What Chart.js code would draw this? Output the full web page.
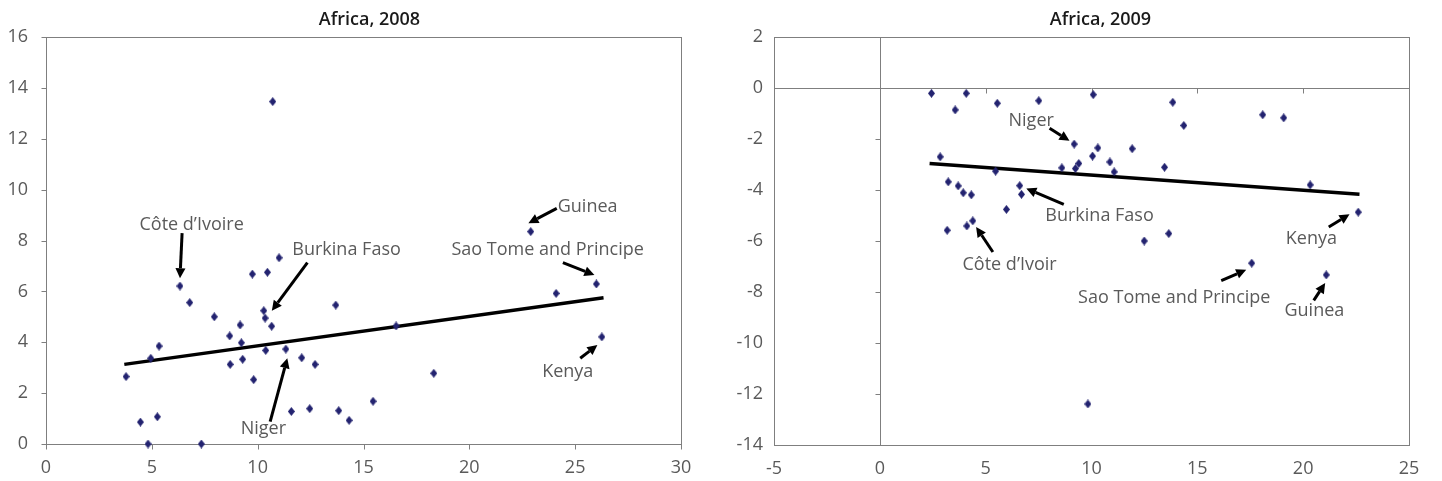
<!DOCTYPE html>
<html>
<head>
<meta charset="utf-8">
<script src="https://cdn.jsdelivr.net/npm/chart.js@4/dist/chart.umd.min.js"></script>
<style>
  body { margin: 0; background: #fff; }
  .panel { position: absolute; top: 0; width: 721px; height: 481px; }
</style>
</head>
<body>
<div class="panel" style="left:0"><canvas id="c2008" width="721" height="481"></canvas></div>
<div class="panel" style="left:721px"><canvas id="c2009" width="721" height="481"></canvas></div>
<script>
// Africa, 2008 scatter
const x2008 = [3.78, 4.46, 4.82, 4.95, 5.26, 5.34, 6.33, 6.79, 7.34, 7.95, 8.68, 8.70, 9.17, 9.23, 9.29, 9.75, 9.81, 10.29, 10.35, 10.38,
  10.46, 10.66, 11.01, 11.33, 11.59, 12.08, 12.46, 12.71, 13.69, 13.83, 14.32, 15.45, 16.54, 18.32, 24.1, 26.0, 26.26, 22.9, 10.71];
const y2008 = [2.65, 0.86, 0, 3.37, 1.07, 3.85, 6.21, 5.56, 0, 5.0, 4.25, 3.13, 4.68, 3.98, 3.33, 6.68, 2.53, 5.24, 4.95, 3.68,
  6.75, 4.63, 7.32, 3.73, 1.28, 3.39, 1.39, 3.13, 5.46, 1.31, 0.93, 1.68, 4.64, 2.78, 5.92, 6.29, 4.21, 8.35, 13.46];
const trendX2008 = [3.7, 26.34];
const trendY2008 = [3.13, 5.75];

// Africa, 2009 scatter
const x2009 = [2.44, 2.85, 3.23, 3.18, 3.56, 3.70, 3.94, 4.08, 4.11, 4.32, 4.39, 5.55, 5.47, 5.98, 6.61, 6.69, 7.51, 8.60, 9.18, 9.24,
  9.40, 10.08, 10.05, 10.30, 10.87, 11.07, 11.92, 12.49, 13.45, 13.65, 13.84, 14.36, 18.09, 19.08, 20.33, 22.6, 17.57, 21.09, 9.83];
const y2009 = [-0.21, -2.70, -3.68, -5.58, -0.86, -3.84, -4.11, -0.21, -5.41, -4.19, -5.21, -0.60, -3.26, -4.76, -3.83, -4.17, -0.50, -3.13, -2.20, -3.16,
  -2.96, -0.26, -2.67, -2.35, -2.90, -3.29, -2.38, -6.0, -3.11, -5.71, -0.56, -1.47, -1.05, -1.17, -3.80, -4.87, -6.87, -7.33, -12.39];
const trendX2009 = [2.35, 22.66];
const trendY2009 = [-2.96, -4.17];

// callouts (data units): label, text centre, arrow tail, arrow head
const notes2008 = ['Côte d\u2019Ivoire', 'Burkina Faso', 'Niger', 'Guinea', 'Sao Tome and Principe', 'Kenya'];
const notes2008TextX = [6.88, 14.2, 10.27, 25.59, 23.70, 24.65];
const notes2008TextY = [8.65, 7.67, 0.63, 9.39, 7.70, 2.87];
const notes2008TailX = [6.43, 12.35, 10.59, 24.13, 24.42, 25.24];
const notes2008TailY = [8.29, 7.13, 0.88, 9.26, 7.13, 3.37];
const notes2008HeadX = [6.33, 10.67, 11.40, 22.79, 25.91, 26.05];
const notes2008HeadY = [6.52, 5.24, 3.37, 8.68, 6.64, 3.89];

const notes2009 = ['Niger', 'Burkina Faso', 'Côte d\u2019Ivoir', 'Kenya', 'Sao Tome and Principe', 'Guinea'];
const notes2009TextX = [7.15, 10.38, 6.13, 20.39, 13.91, 20.53];
const notes2009TextY = [-1.22, -4.95, -6.87, -5.86, -8.18, -8.69];
const notes2009TailX = [8.02, 8.69, 5.34, 21.21, 16.13, 20.5];
const notes2009TailY = [-1.58, -4.56, -6.43, -5.45, -7.55, -8.33];
const notes2009HeadX = [8.96, 6.92, 4.55, 22.19, 17.31, 21.04];
const notes2009HeadY = [-2.07, -3.94, -5.45, -4.95, -7.13, -7.65];

Chart.defaults.font.family = "'Open Sans', 'Noto Sans', sans-serif";
Chart.defaults.font.size = 18;
Chart.defaults.color = '#5a5a5a';

const TEXT = '#5a5a5a';
const LINE = '#7f7f7f';

// diamond marker
const diamond = document.createElement('canvas');
diamond.width = 7; diamond.height = 9;
(function () {
  const g = diamond.getContext('2d');
  g.fillStyle = '#232370';
  g.beginPath();
  g.moveTo(3.5, 0); g.lineTo(7, 4.5); g.lineTo(3.5, 9); g.lineTo(0, 4.5);
  g.closePath(); g.fill();
})();

function arrow(ctx, x1, y1, x2, y2) {
  const a = Math.atan2(y2 - y1, x2 - x1);
  const hl = 10, hw = 5;
  const bx = x2 - hl * Math.cos(a), by = y2 - hl * Math.sin(a);
  ctx.strokeStyle = '#000'; ctx.fillStyle = '#000';
  ctx.lineWidth = 3; ctx.lineCap = 'butt';
  ctx.beginPath(); ctx.moveTo(x1, y1); ctx.lineTo(bx, by); ctx.stroke();
  ctx.beginPath();
  ctx.moveTo(x2, y2);
  ctx.lineTo(bx + hw * Math.sin(a), by - hw * Math.cos(a));
  ctx.lineTo(bx - hw * Math.sin(a), by + hw * Math.cos(a));
  ctx.closePath(); ctx.fill();
}

function makeChart(id, cfg) {
  const pts = cfg.xs.map((x, i) => ({ x: x, y: cfg.ys[i] }));
  const trend = cfg.tx.map((x, i) => ({ x: x, y: cfg.ty[i] }));

  const decor = {
    id: 'decor',
    beforeDatasetsDraw(chart) {
      const { ctx, chartArea: a, scales: { x, y } } = chart;
      ctx.save();
      ctx.strokeStyle = LINE; ctx.lineWidth = 1;
      ctx.strokeRect(Math.round(a.left) + 0.5, Math.round(a.top) + 0.5,
        Math.round(a.right - a.left), Math.round(a.bottom - a.top));
      // axes crossing at zero with their tick marks
      const x0 = Math.round(x.getPixelForValue(cfg.xAxisAt)) + 0.5;
      const y0 = Math.round(y.getPixelForValue(cfg.yAxisAt)) + 0.5;
      ctx.beginPath();
      ctx.moveTo(x0, a.top); ctx.lineTo(x0, a.bottom);
      ctx.moveTo(a.left, y0); ctx.lineTo(a.right, y0);
      y.ticks.forEach(t => {
        const py = Math.round(y.getPixelForValue(t.value)) + 0.5;
        ctx.moveTo(x0 - 5, py); ctx.lineTo(x0, py);
      });
      x.ticks.forEach(t => {
        const px = Math.round(x.getPixelForValue(t.value)) + 0.5;
        ctx.moveTo(px, y0); ctx.lineTo(px, y0 + 5);
      });
      ctx.stroke();
      ctx.restore();
    },
    afterDatasetsDraw(chart) {
      const { ctx, chartArea: a, scales: { x, y } } = chart;
      ctx.save();
      cfg.notes.forEach((label, i) => {
        arrow(ctx, x.getPixelForValue(cfg.tailX[i]), y.getPixelForValue(cfg.tailY[i]),
          x.getPixelForValue(cfg.headX[i]), y.getPixelForValue(cfg.headY[i]));
        ctx.fillStyle = TEXT;
        ctx.font = "18px 'Open Sans', 'Noto Sans', sans-serif";
        ctx.textAlign = 'center'; ctx.textBaseline = 'alphabetic';
        ctx.fillText(label, x.getPixelForValue(cfg.textX[i]), y.getPixelForValue(cfg.textY[i]) + 6.5);
      });
      ctx.fillStyle = '#1a1a1a';
      ctx.font = "600 18px 'Open Sans', 'Noto Sans', sans-serif";
      ctx.textAlign = 'center';
      ctx.fillText(cfg.title, (a.left + a.right) / 2 + cfg.titleShift, 25);
      ctx.restore();
    }
  };

  return new Chart(document.getElementById(id), {
    type: 'scatter',
    data: {
      datasets: [
        { data: pts, pointStyle: diamond, pointRadius: 4, pointHoverRadius: 4, clip: false },
        { type: 'line', data: trend, borderColor: '#000', borderWidth: 3.5, pointRadius: 0, fill: false }
      ]
    },
    options: {
      responsive: false,
      animation: false,
      events: [],
      layout: { padding: { top: 37, right: cfg.padRight, left: 0, bottom: 0 } },
      plugins: { legend: { display: false }, tooltip: { enabled: false }, title: { display: false } },
      scales: {
        x: {
          type: 'linear', min: cfg.xmin, max: cfg.xmax,
          ticks: { stepSize: 5, padding: 13, maxRotation: 0, color: TEXT },
          grid: { display: false, drawTicks: false }, border: { display: false },
          afterFit: s => { s.height = cfg.xHeight; }
        },
        y: {
          type: 'linear', min: cfg.ymin, max: cfg.ymax,
          ticks: { stepSize: 2, padding: cfg.yPad, color: TEXT },
          grid: { display: false, drawTicks: false }, border: { display: false },
          afterFit: s => { s.width = cfg.yWidth; }
        }
      }
    },
    plugins: [decor]
  });
}

makeChart('c2008', {
  xs: x2008, ys: y2008, tx: trendX2008, ty: trendY2008,
  notes: notes2008, textX: notes2008TextX, textY: notes2008TextY,
  tailX: notes2008TailX, tailY: notes2008TailY, headX: notes2008HeadX, headY: notes2008HeadY,
  title: 'Africa, 2008', titleShift: 6,
  xmin: 0, xmax: 30, ymin: 0, ymax: 16, xAxisAt: 0, yAxisAt: 0,
  padRight: 40, xHeight: 37, yWidth: 46, yPad: 18
});

makeChart('c2009', {
  xs: x2009, ys: y2009, tx: trendX2009, ty: trendY2009,
  notes: notes2009, textX: notes2009TextX, textY: notes2009TextY,
  tailX: notes2009TailX, tailY: notes2009TailY, headX: notes2009HeadX, headY: notes2009HeadY,
  title: 'Africa, 2009', titleShift: 9,
  xmin: -5, xmax: 25, ymin: -14, ymax: 2, xAxisAt: 0, yAxisAt: 0,
  padRight: 33, xHeight: 36, yWidth: 53, yPad: 11
});
</script>
</body>
</html>
